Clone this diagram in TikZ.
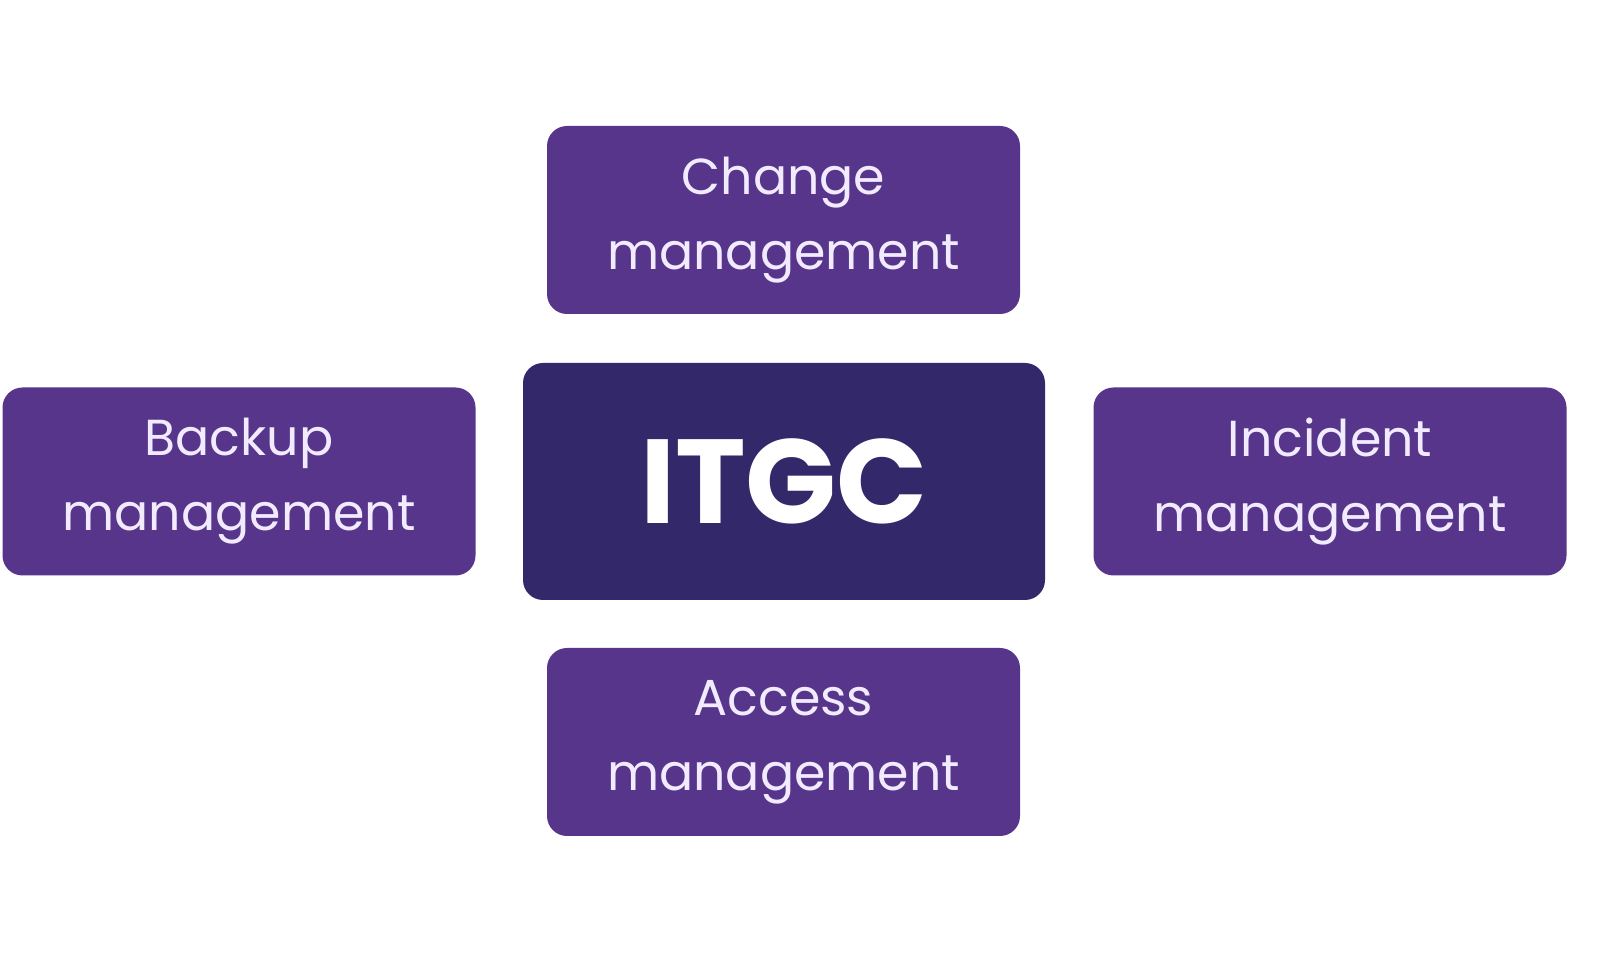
\documentclass[tikz,border=0pt]{standalone}
\usepackage{fontspec}
\setmainfont{Poppins}
\definecolor{itgcouter}{HTML}{56358A}
\definecolor{itgccenter}{HTML}{33296A}
\definecolor{itgctext}{HTML}{F2EAFF}
\tikzset{
	areabox/.style={fill=itgcouter, rounded corners=0.2cm, minimum width=4.73cm,
		minimum height=1.88cm, align=center, text=itgctext,
		font=\fontsize{14.4}{21.3}\selectfont},
	corebox/.style={fill=itgccenter, rounded corners=0.2cm, minimum width=5.22cm,
		minimum height=2.37cm, text=white, font=\fontsize{34}{40}\selectfont\bfseries}
}
\begin{document}
\begin{tikzpicture}
	\useasboundingbox (0, 0) rectangle (16, 9.53);
	% Mitte
	\node[corebox] (itgc) at (7.84, 4.715) {ITGC};
	% Bereiche rundherum
	\node[areabox] (change) at (7.835, 7.33) {Change\\management};
	\node[areabox] (backup) at (2.39, 4.715) {Backup\\management};
	\node[areabox] (incident) at (13.30, 4.715) {Incident\\management};
	\node[areabox] (access) at (7.835, 2.11) {Access\\management};
\end{tikzpicture}
\end{document}
